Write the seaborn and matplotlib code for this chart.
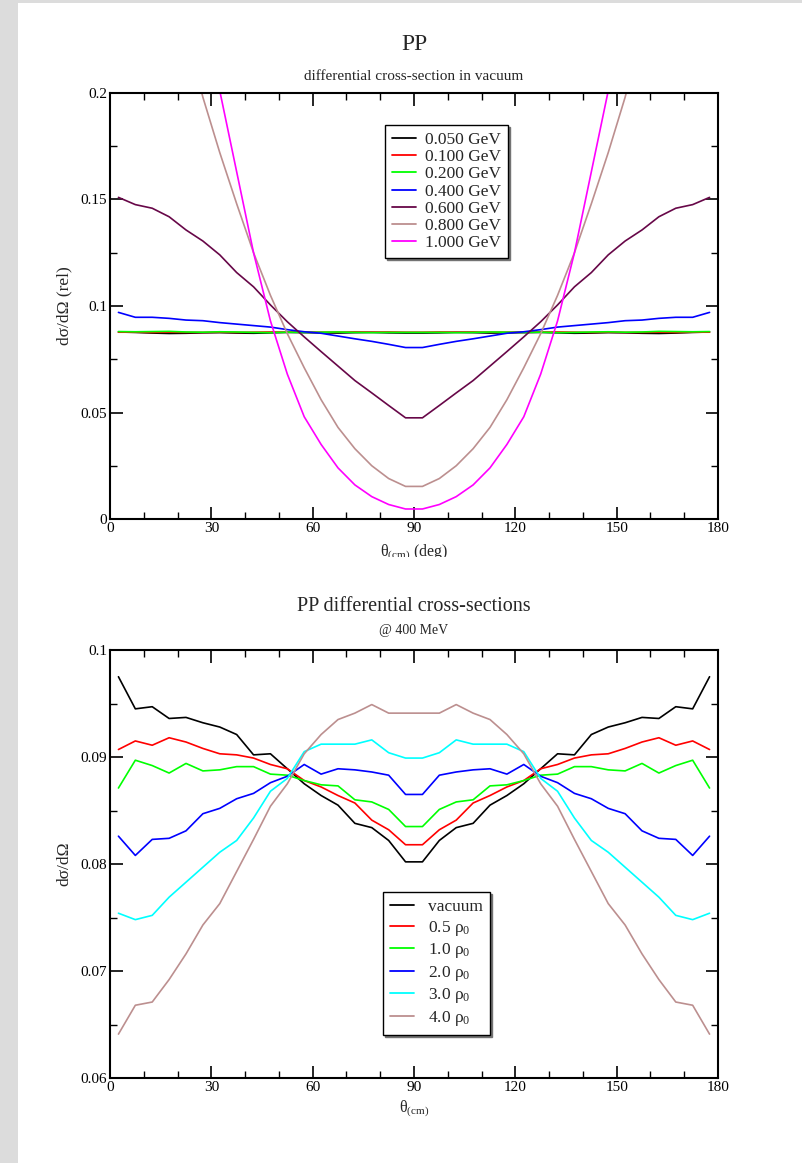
import numpy as np
import pandas as pd
import seaborn as sns
import matplotlib
matplotlib.use("Agg")
import matplotlib.pyplot as plt
from matplotlib.patches import Rectangle
from matplotlib.ticker import MultipleLocator, FuncFormatter
from matplotlib.transforms import Bbox

# scattering angles (deg, centre-of-mass frame), 5-degree bins
theta = np.arange(2.5, 180, 5.0)

# --- vacuum cross-sections for several beam energies (left half, 2.5..87.5 deg) ---
e050_half = [0.0878, 0.0876, 0.0873, 0.0871, 0.0872, 0.0874, 0.0875, 0.0873, 0.0872,
             0.0874, 0.0876, 0.0875, 0.0874, 0.0873, 0.0875, 0.0876, 0.0874, 0.0873]
e100_half = [0.0877, 0.0877, 0.0876, 0.0877, 0.0876, 0.0876, 0.0877, 0.0876, 0.0877,
             0.0878, 0.0877, 0.0878, 0.0877, 0.0877, 0.0878, 0.0877, 0.0878, 0.0877]
e200_half = [0.0880, 0.0879, 0.0880, 0.0881, 0.0878, 0.0877, 0.0879, 0.0878, 0.0876,
             0.0875, 0.0877, 0.0876, 0.0877, 0.0878, 0.0876, 0.0875, 0.0876, 0.0876]
e400_half = [0.0970, 0.0947, 0.0947, 0.0942, 0.0934, 0.0931, 0.0922, 0.0915, 0.0908,
             0.0901, 0.0889, 0.0879, 0.0872, 0.0859, 0.0846, 0.0834, 0.0820, 0.0805]
e600_half = [0.1510, 0.1476, 0.1459, 0.1419, 0.1357, 0.1305, 0.1240, 0.1157, 0.1090,
             0.1005, 0.0926, 0.0855, 0.0786, 0.0718, 0.0650, 0.0592, 0.0533, 0.0475]
e800_half = [0.340, 0.320, 0.290, 0.260, 0.228, 0.198, 0.172, 0.148, 0.125,
             0.105, 0.087, 0.071, 0.056, 0.043, 0.033, 0.025, 0.019, 0.0153]
e1000_half = [0.440, 0.420, 0.390, 0.350, 0.300, 0.250, 0.201, 0.163, 0.125,
              0.093, 0.068, 0.048, 0.035, 0.024, 0.016, 0.0105, 0.0068, 0.0047]

energy_labels = ["0.050 GeV", "0.100 GeV", "0.200 GeV", "0.400 GeV",
                 "0.600 GeV", "0.800 GeV", "1.000 GeV"]
energy_colors = ["#000000", "#ff0000", "#00ff00", "#0000ff",
                 "#670748", "#bc8f8f", "#ff00ff"]

# --- in-medium cross-sections at 400 MeV for several densities ---
vac_half = [0.0975, 0.0945, 0.0947, 0.0936, 0.0937, 0.0932, 0.0928, 0.0921, 0.0902,
            0.0903, 0.0889, 0.0875, 0.0864, 0.0855, 0.0838, 0.0834, 0.0822, 0.0802]
rho05_half = [0.0907, 0.0915, 0.0911, 0.0918, 0.0914, 0.0908, 0.0903, 0.0902, 0.0899,
              0.0893, 0.0889, 0.0878, 0.0872, 0.0864, 0.0857, 0.0841, 0.0832, 0.0818]
rho10_half = [0.0871, 0.0897, 0.0892, 0.0885, 0.0894, 0.0887, 0.0888, 0.0891, 0.0891,
              0.0884, 0.0883, 0.0878, 0.0874, 0.0873, 0.0860, 0.0858, 0.0851, 0.0835]
rho20_half = [0.0826, 0.0808, 0.0823, 0.0824, 0.0831, 0.0847, 0.0852, 0.0861, 0.0866,
              0.0876, 0.0882, 0.0893, 0.0884, 0.0889, 0.0888, 0.0886, 0.0883, 0.0865]
rho30_half = [0.0754, 0.0748, 0.0752, 0.0769, 0.0783, 0.0797, 0.0811, 0.0822, 0.0843,
              0.0868, 0.0880, 0.0905, 0.0912, 0.0912, 0.0912, 0.0916, 0.0904, 0.0899]
rho40_half = [0.0641, 0.0668, 0.0671, 0.0692, 0.0716, 0.0743, 0.0763, 0.0793, 0.0823,
              0.0854, 0.0875, 0.0903, 0.0921, 0.0935, 0.0941, 0.0949, 0.0941, 0.0941]

density_labels = ["vacuum", "0.5 ρ$_0$", "1.0 ρ$_0$", "2.0 ρ$_0$", "3.0 ρ$_0$", "4.0 ρ$_0$"]
density_colors = ["#000000", "#ff0000", "#00ff00", "#0000ff", "#00ffff", "#bc8f8f"]


def full(half):
    # pp scattering is symmetric about 90 degrees
    return list(half) + list(half[::-1])


def long_frame(labels, halves):
    rows = []
    for lab, h in zip(labels, halves):
        for t, v in zip(theta, full(h)):
            rows.append({"theta": t, "value": v, "series": lab})
    return pd.DataFrame(rows)


df1 = long_frame(energy_labels, [e050_half, e100_half, e200_half, e400_half,
                                 e600_half, e800_half, e1000_half])
df2 = long_frame(density_labels, [vac_half, rho05_half, rho10_half, rho20_half,
                                  rho30_half, rho40_half])

sns.set_theme(style="white")
plt.rcParams["font.family"] = ["Liberation Serif", "DejaVu Serif"]
plt.rcParams["mathtext.fontset"] = "custom"
plt.rcParams["mathtext.rm"] = "Liberation Serif"
plt.rcParams["mathtext.it"] = "Liberation Serif"
plt.rcParams["axes.unicode_minus"] = False

W, H = 803, 1163
fig = plt.figure(figsize=(W / 100, H / 100), dpi=100)
fig.patch.set_facecolor("white")

# page margins
fig.patches.append(Rectangle((0, 0), 18 / W, 1, transform=fig.transFigure,
                             facecolor="#dcdcdc", edgecolor="none", zorder=-10))
fig.patches.append(Rectangle((0, 1 - 3 / H), 1, 3 / H, transform=fig.transFigure,
                             facecolor="#dcdcdc", edgecolor="none", zorder=-10))


def axes_px(x0, y0, x1, y1):
    return fig.add_axes([x0 / W, 1 - y1 / H, (x1 - x0) / W, (y1 - y0) / H])


ax1 = axes_px(110, 93, 718, 519)
ax2 = axes_px(110, 650, 718, 1078)

sns.lineplot(data=df1, x="theta", y="value", hue="series", palette=energy_colors,
             estimator=None, sort=False, linewidth=1.2, ax=ax1)
sns.lineplot(data=df2, x="theta", y="value", hue="series", palette=density_colors,
             estimator=None, sort=False, linewidth=1.2, ax=ax2)


def gfmt(v, pos):
    return f"{v:g}"


def style_axes(ax, ymin, ymax, ymajor, yminor):
    ax.set_xlim(0, 180)
    ax.set_ylim(ymin, ymax)
    ax.xaxis.set_major_locator(MultipleLocator(30))
    ax.xaxis.set_minor_locator(MultipleLocator(10))
    ax.yaxis.set_major_locator(MultipleLocator(ymajor))
    ax.yaxis.set_minor_locator(MultipleLocator(yminor))
    ax.yaxis.set_major_formatter(FuncFormatter(gfmt))
    ax.tick_params(which="both", direction="in", top=True, right=True,
                   bottom=True, left=True, colors="black", labelsize=11, pad=2)
    ax.tick_params(which="major", length=9, width=1.2)
    ax.tick_params(which="minor", length=5, width=1.0)
    for s in ax.spines.values():
        s.set_color("black")
        s.set_linewidth(1.5)
    ax.set_xlabel("")
    ax.set_ylabel("")


style_axes(ax1, 0, 0.2, 0.05, 0.025)
style_axes(ax2, 0.06, 0.1, 0.01, 0.005)

# titles
ax1.text(0.5, 1 + 48 / 426, "PP", transform=ax1.transAxes, ha="center", va="center",
         fontsize=17)
ax1.text(0.5, 1 + 17 / 426, "differential cross-section in vacuum", transform=ax1.transAxes,
         ha="center", va="center", fontsize=11)
ax2.text(0.5, 1 + 44 / 428, "PP differential cross-sections", transform=ax2.transAxes,
         ha="center", va="center", fontsize=14.5)
ax2.text(0.5, 1 + 20 / 428, "@ 400 MeV", transform=ax2.transAxes,
         ha="center", va="center", fontsize=10)

# axis labels
ax1.set_ylabel("dσ/dΩ (rel)", fontsize=12.5, labelpad=6)
ax2.set_ylabel("dσ/dΩ", fontsize=12.5, labelpad=6)
ax1.set_xlabel(r"θ$_{(cm)}$ (deg)", fontsize=11.5, labelpad=6)
ax2.set_xlabel(r"θ$_{(cm)}$", fontsize=11.5, labelpad=4)
# the upper panel's axis label is cut off by the bottom of its frame
ax1.xaxis.label.set_clip_box(Bbox.from_extents(0, H - 557, W, H))
ax1.xaxis.label.set_clip_on(True)

shadow = {"ox": 1.5, "oy": -1.5, "facecolor": "0.45", "edgecolor": "0.45", "alpha": 1}
leg1 = ax1.legend(loc="upper left", bbox_to_anchor=(0.452, 0.925), frameon=True,
                  fontsize=12.5, labelspacing=0.06, handlelength=1.4, handletextpad=0.5,
                  borderpad=0.4, borderaxespad=0, fancybox=False, shadow=shadow)
leg2 = ax2.legend(loc="upper left", bbox_to_anchor=(0.449, 0.434), frameon=True,
                  fontsize=12.5, labelspacing=0.2, handlelength=1.4, handletextpad=0.8,
                  borderpad=0.4, borderaxespad=0, fancybox=False, shadow=shadow)
for leg in (leg1, leg2):
    fr = leg.get_frame()
    fr.set_edgecolor("black")
    fr.set_linewidth(1.0)
    fr.set_facecolor("white")
    fr.set_alpha(1)
    for ln in leg.get_lines():
        ln.set_linewidth(1.3)

fig.savefig("out.png", dpi=100, facecolor=fig.get_facecolor())
